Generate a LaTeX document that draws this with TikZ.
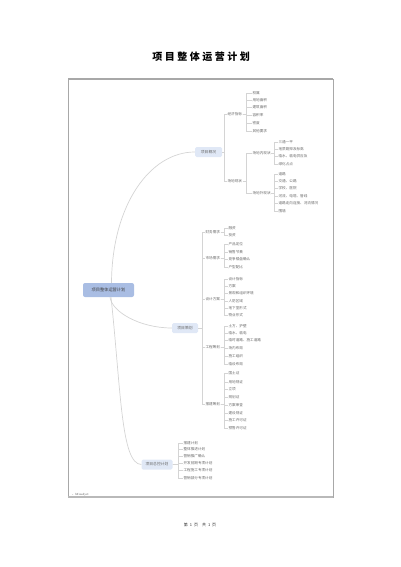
\documentclass[tikz,border=0pt]{standalone}
\usepackage{fontspec}
\newfontfamily\cjk{Noto Sans CJK SC}
\newfontfamily\cjktitle[LetterSpace=25]{Noto Sans CJK SC}
\definecolor{linegray}{HTML}{D4D4D4}
\definecolor{framegray}{HTML}{A8A8A8}
\definecolor{rootfill}{HTML}{A9BDE3}
\definecolor{subfill}{HTML}{E0E8F6}
\definecolor{leaftext}{HTML}{6A6A6A}
\tikzset{
  leaf/.style={anchor=west, inner sep=0.4pt, font=\cjk\fontsize{3.6}{4}\selectfont, text=leaftext},
  midlabel/.style={anchor=west, inner sep=0.4pt, font=\cjk\fontsize{3.6}{4}\selectfont, text=leaftext},
  branchbox/.style={fill=subfill, rounded corners=1.5pt, inner sep=0pt, minimum height=10pt, font=\cjk\fontsize{3.8}{4}\selectfont, text=leaftext},
  rootbox/.style={fill=rootfill, rounded corners=2pt, inner sep=0pt, minimum width=51pt, minimum height=14pt, font=\cjk\fontsize{4.2}{5}\selectfont, text=black!75},
  conn/.style={draw=linegray, line width=0.45pt},
  curveconn/.style={draw=linegray, line width=0.7pt}
}
\begin{document}
\begin{tikzpicture}[x=1pt,y=-1pt]
\useasboundingbox (0,0) rectangle (400,567);
% title and footer
\node[font=\cjktitle\bfseries\fontsize{10}{12}\selectfont] (title) at (201,57) {项目整体运营计划};
\node[font=\cjk\fontsize{4}{4.5}\selectfont, text=black!80] (footer) at (200,525) {第\enspace 1\enspace 页\quad 共\enspace 1\enspace 页};
% frame
\draw[framegray, line width=0.8pt] (68,79) rectangle (333,497);
\draw[framegray, line width=1.6pt] (68,79) -- (333,79);
\draw[framegray!80, line width=1.4pt] (68,497) -- (333,497);
\node[anchor=west, inner sep=0pt, font=\fontsize{3}{3.5}\selectfont, text=black!70] (mj) at (72,494.5) {- Mindjet};
% main nodes
\node[rootbox] (root) at (108.5,290) {项目整体运营计划};
\node[branchbox, minimum width=27pt] (b1) at (208.5,152) {项目概况};
\node[branchbox, minimum width=26pt] (b2) at (185,328) {项目策划};
\node[branchbox, minimum width=31pt] (b3) at (157,464.5) {项目总控计划};
\draw[curveconn] ([xshift=3pt]root.north) .. controls (112,205) and (150,152) .. (b1.west);
\draw[curveconn] ([xshift=1.5pt]root.south) .. controls (112,312) and (140,328) .. (b2.west);
\draw[curveconn] ([xshift=2.5pt]root.south) .. controls (121,390) and (121,464) .. (b3.west);
% ---- 项目概况
\node[midlabel] (e1) at (227,114) {经济指标};
\node[midlabel] (e2) at (227,181) {场地现状};
\foreach \c in {e1,e2} \draw[conn] (b1.east) -- ++(2.5,0) |- (\c.west);
\foreach \t [count=\i] / \y in {权属/93,用地面积/100,建筑面积/107,容积率/115,密度/123,其他要求/131}
  \node[leaf] (e1l\i) at (252,\y) {\t};
\foreach \i in {1,...,6} \draw[conn] (e1.east) -- ++(4,0) |- (e1l\i.west);
\node[midlabel] (f1) at (252,153) {场地内现状};
\node[midlabel] (f2) at (252,193) {场地外现状};
\foreach \c in {f1,f2} \draw[conn] (e2.east) -- ++(3.5,0) |- (\c.west);
\foreach \t [count=\i] / \y in {三通一平/142,地质勘探及标高/149,临水、临电供应及/156,绿化占点/164}
  \node[leaf] (f1l\i) at (278,\y) {\t};
\foreach \i in {1,...,4} \draw[conn] (f1.east) -- ++(3,0) |- (f1l\i.west);
\foreach \t [count=\i] / \y in {道路/174,交通、公路/181,学校、医院/188,河流、电塔、管线/196,道路走向连接、河流情况/203,围墙/211}
  \node[leaf] (f2l\i) at (278,\y) {\t};
\foreach \i in {1,...,6} \draw[conn] (f2.east) -- ++(3,0) |- (f2l\i.west);
% ---- 项目策划
\node[midlabel] (p1) at (205,232) {财务需求};
\node[midlabel] (p2) at (205,258) {市场需求};
\node[midlabel] (p3) at (205,299) {设计方案};
\node[midlabel] (p4) at (205,347) {工程筹划};
\node[midlabel] (p5) at (205,404) {报建筹划};
\foreach \c in {p1,p2,p3,p4,p5} \draw[conn] (b2.east) -- ++(4,0) |- (\c.west);
\foreach \t [count=\i] / \y in {融资/228,投资/235}
  \node[leaf] (p1l\i) at (228,\y) {\t};
\foreach \i in {1,2} \draw[conn] (p1.east) -- ++(3.5,0) |- (p1l\i.west);
\foreach \t [count=\i] / \y in {产品定位/244,销售节奏/252,竞争楼盘确认/259,户型配比/267}
  \node[leaf] (p2l\i) at (228,\y) {\t};
\foreach \i in {1,...,4} \draw[conn] (p2.east) -- ++(3.5,0) |- (p2l\i.west);
\foreach \t [count=\i] / \y in {设计指标/279,方案/286,景观和组织环境/293,人防区域/301,地下室形式/308,物业形式/315}
  \node[leaf] (p3l\i) at (228,\y) {\t};
\foreach \i in {1,...,6} \draw[conn] (p3.east) -- ++(3.5,0) |- (p3l\i.west);
\foreach \t [count=\i] / \y in {土方、护壁/326,临水、临电/333,临时道路、施工道路/340,场内布局/348,施工组织/356,临设布局/364}
  \node[leaf] (p4l\i) at (228,\y) {\t};
\foreach \i in {1,...,6} \draw[conn] (p4.east) -- ++(3.5,0) |- (p4l\i.west);
\foreach \t [count=\i] / \y in {国土证/373,用地规证/382,立项/389,规划证/397,方案审查/405,建设规证/413,施工许可证/420,预售许可证/428}
  \node[leaf] (p5l\i) at (228,\y) {\t};
\foreach \i in {1,...,8} \draw[conn] (p5.east) -- ++(3.5,0) |- (p5l\i.west);
% ---- 项目总控计划
\foreach \t [count=\i] / \y in {报建计划/443,整体推进计划/449,营销推广确认/456,开发前期专项计划/463,工程施工专项计划/470,营销部分专项计划/478}
  \node[leaf] (t\i) at (183,\y) {\t};
\foreach \i in {1,...,6} \draw[conn] (b3.east) -- ++(6,0) |- (t\i.west);
\end{tikzpicture}
\end{document}
